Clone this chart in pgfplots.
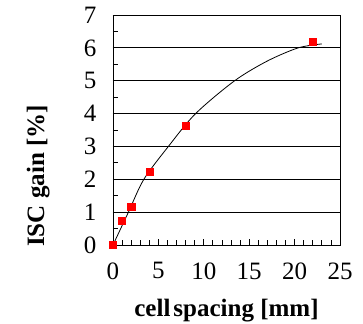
\documentclass[border=0pt]{standalone}
\usepackage{pgfplots}
\pgfplotsset{compat=1.18}
\usepackage{fontspec}
\setmainfont{Liberation Serif}
\begin{document}
\begin{tikzpicture}
\begin{axis}[
  scale only axis,
  width=227pt, height=230pt,
  xmin=0, xmax=25, ymin=0, ymax=7,
  xtick={0,5,...,25}, ytick={0,1,...,7},
  minor x tick num=4, minor y tick num=1,
  tick pos=left, tick align=inside,
  major tick length=6pt, minor tick length=5pt,
  ymajorgrids, major grid style={black, line width=0.9pt},
  axis line style={black, line width=0.9pt},
  every tick/.style={black, line width=0.8pt},
  /pgf/number format/assume math mode=true,
  ticklabel style={font=\fontsize{25}{30}\selectfont},
  yticklabel style={xshift=-13pt},
  xticklabel style={yshift=-14pt},
  clip=false,
  xlabel={\bfseries cell\hspace{0.12em}spacing [mm]},
  ylabel={\bfseries ISC gain [\%]},
  xlabel style={font=\fontsize{25}{30}\selectfont, anchor=base, at={(axis description cs:0.5,-0.309)}},
  ylabel style={font=\fontsize{25}{30}\selectfont, anchor=center, at={(axis description cs:-0.33,0.30)}},
]
\addplot[only marks, mark=square*, mark size=3.6pt, color=red] coordinates {
  (0,0) (1,0.75) (2,1.17) (4,2.22) (8,3.63) (22,6.18)
};
\addplot[black, line width=0.8pt, smooth, tension=0.5] coordinates {
  (0,0) (1.7,1) (3.4,2) (6.1,3) (9.1,4) (13.4,5) (17,5.6) (20.4,6) (23,6.12)
};
\end{axis}
\pgfresetboundingbox
\path ([xshift=-113pt,yshift=-78pt]current axis.south west) rectangle ([xshift=23pt,yshift=15pt]current axis.north east);
\end{tikzpicture}
\end{document}
